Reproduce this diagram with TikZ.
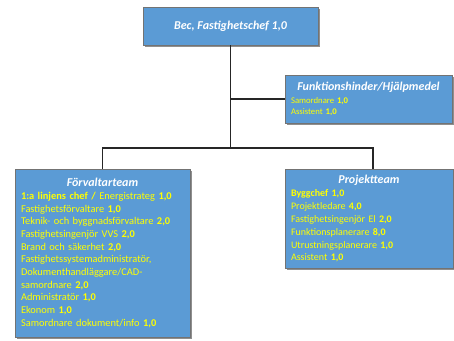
\documentclass[tikz,border=0pt]{standalone}
\usepackage{fontspec}
\setmainfont{Carlito}
\usetikzlibrary{shadows}
\definecolor{unitblue}{HTML}{5B9BD5}
\definecolor{staffyellow}{HTML}{FFFF00}
\tikzset{
    unit/.style={rectangle, draw=black!55, line width=0.6pt, fill=unitblue,
        drop shadow={shadow xshift=2pt, shadow yshift=-2pt, fill=black!80, opacity=0.55},
        inner xsep=6pt, inner ysep=3pt, align=left, text=staffyellow},
    chief/.style={unit, align=center, text=white,
        font=\fontsize{12}{14}\selectfont\bfseries\itshape},
    tree/.style={line width=1.1pt, draw=black!85}
}
\newcommand{\teamhead}[1]{{\centering\color{white}\fontsize{12}{14}\selectfont\bfseries\itshape #1\par}}
\newcommand{\fte}[1]{\textbf{#1}}

\begin{document}
\begin{tikzpicture}[x=1pt, y=-1pt]
\useasboundingbox (0,0) rectangle (454,340);

%% units
\node[chief, minimum width=175pt, minimum height=38pt] (chef) at (230.5,26)
    {Bec, Fastighetschef 1,0};

\node[unit, text width=155pt, minimum height=48pt,
      font=\fontsize{8.7}{11}\selectfont] (funk) at (368.5,99)
    {\teamhead{Funktionshinder/Hjälpmedel}\vspace{2pt}%
     Samordnare \fte{1,0}\\
     Assistent \fte{1,0}};

\node[unit, text width=163pt, minimum height=168pt,
      font=\fontsize{10.4}{12.7}\selectfont] (forv) at (102.5,253)
    {\teamhead{Förvaltarteam}%
     \fte{1:a linjens chef /} Energistrateg \fte{1,0}\\
     Fastighetsförvaltare \fte{1,0}\\
     Teknik- och byggnadsförvaltare \fte{2,0}\\
     Fastighetsingenjör VVS \fte{2,0}\\
     Brand och säkerhet \fte{2,0}\\
     Fastighetssystemadministratör,\\
     Dokumenthandläggare/CAD-\\
     samordnare \fte{2,0}\\
     Administratör \fte{1,0}\\
     Ekonom \fte{1,0}\\
     Samordnare dokument/info \fte{1,0}};

\node[unit, text width=156pt, minimum height=99pt,
      font=\fontsize{10}{12.8}\selectfont] (proj) at (369,218.5)
    {\teamhead{Projektteam}\vspace{1pt}%
     \fte{Byggchef 1,0}\\
     Projektledare \fte{4,0}\\
     Fastighetsingenjör El \fte{2,0}\\
     Funktionsplanerare \fte{8,0}\\
     Utrustningsplanerare \fte{1,0}\\
     Assistent \fte{1,0}};

%% tree lines
\coordinate (split) at (chef.south |- 0,148);
\draw[tree] (chef.south) -- (split);
\draw[tree] (chef.south |- funk.west) -- (funk.west);
\draw[tree] (split) -| (forv.north);
\draw[tree] (split) -| ([xshift=4pt]proj.north);

\end{tikzpicture}
\end{document}
